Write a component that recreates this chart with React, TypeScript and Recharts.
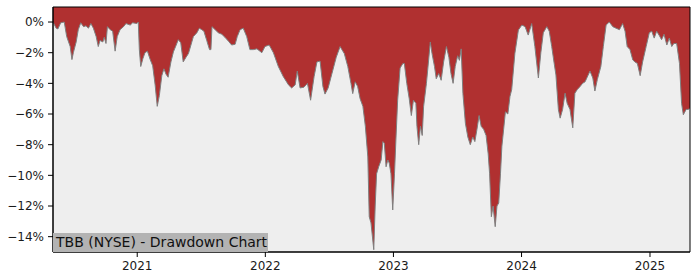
import { AreaChart, Area, XAxis, YAxis, CartesianGrid, ReferenceArea } from "recharts";

const dates = [
  "2020-05-06", "2020-05-15", "2020-05-20", "2020-05-28", "2020-06-07", "2020-06-14", "2020-06-24", "2020-06-29",
  "2020-07-03", "2020-07-11", "2020-07-17", "2020-07-24", "2020-08-01", "2020-08-08", "2020-08-15", "2020-08-22",
  "2020-08-29", "2020-09-06", "2020-09-12", "2020-09-17", "2020-09-25", "2020-09-29", "2020-10-04", "2020-10-08",
  "2020-10-16", "2020-10-23", "2020-10-30", "2020-11-05", "2020-11-13", "2020-11-23", "2020-11-30", "2020-12-12",
  "2020-12-19", "2020-12-31", "2021-01-04", "2021-01-07", "2021-01-11", "2021-01-17", "2021-01-23", "2021-01-30",
  "2021-02-07", "2021-02-14", "2021-02-21", "2021-02-27", "2021-03-05", "2021-03-12", "2021-03-18", "2021-03-24",
  "2021-03-30", "2021-04-07", "2021-04-14", "2021-04-22", "2021-04-28", "2021-05-05", "2021-05-12", "2021-05-20",
  "2021-05-27", "2021-06-03", "2021-06-10", "2021-06-20", "2021-06-27", "2021-07-04", "2021-07-10", "2021-07-18",
  "2021-07-26", "2021-07-30", "2021-08-02", "2021-08-11", "2021-08-20", "2021-08-30", "2021-09-08", "2021-09-18",
  "2021-09-27", "2021-10-07", "2021-10-13", "2021-10-21", "2021-10-30", "2021-11-09", "2021-11-18", "2021-11-28",
  "2021-12-08", "2021-12-22", "2021-12-31", "2022-01-12", "2022-01-24", "2022-02-07", "2022-02-21", "2022-03-08",
  "2022-03-17", "2022-03-27", "2022-04-02", "2022-04-10", "2022-04-21", "2022-05-01", "2022-05-10", "2022-05-20",
  "2022-05-28", "2022-06-06", "2022-06-14", "2022-06-20", "2022-06-29", "2022-07-07", "2022-07-22", "2022-08-02",
  "2022-08-14", "2022-08-24", "2022-09-02", "2022-09-07", "2022-09-14", "2022-09-21", "2022-09-28", "2022-10-06",
  "2022-10-13", "2022-10-20", "2022-10-24", "2022-10-29", "2022-11-06", "2022-11-10", "2022-11-14", "2022-11-20",
  "2022-11-27", "2022-12-02", "2022-12-06", "2022-12-11", "2022-12-16", "2022-12-20", "2022-12-25", "2022-12-30",
  "2023-01-04", "2023-01-08", "2023-01-13", "2023-01-20", "2023-01-28", "2023-02-01", "2023-02-08", "2023-02-15",
  "2023-02-21", "2023-02-27", "2023-03-06", "2023-03-09", "2023-03-14", "2023-03-19", "2023-03-24", "2023-03-28",
  "2023-04-05", "2023-04-12", "2023-04-16", "2023-04-21", "2023-04-28", "2023-05-03", "2023-05-10", "2023-05-17",
  "2023-05-24", "2023-06-01", "2023-06-08", "2023-06-14", "2023-06-20", "2023-06-26", "2023-07-03", "2023-07-08",
  "2023-07-13", "2023-07-18", "2023-07-25", "2023-08-01", "2023-08-08", "2023-08-15", "2023-08-21", "2023-08-27",
  "2023-09-02", "2023-09-08", "2023-09-15", "2023-09-22", "2023-09-28", "2023-10-02", "2023-10-07", "2023-10-12",
  "2023-10-18", "2023-10-23", "2023-10-28", "2023-11-02", "2023-11-06", "2023-11-11", "2023-11-16", "2023-11-23",
  "2023-11-29", "2023-12-04", "2023-12-13", "2023-12-23", "2024-01-02", "2024-01-11", "2024-01-20", "2024-01-30",
  "2024-02-08", "2024-02-18", "2024-02-25", "2024-03-03", "2024-03-13", "2024-03-20", "2024-03-27", "2024-04-03",
  "2024-04-08", "2024-04-15", "2024-04-20", "2024-04-27", "2024-05-04", "2024-05-10", "2024-05-18", "2024-05-26",
  "2024-06-01", "2024-06-08", "2024-06-16", "2024-06-23", "2024-06-30", "2024-07-06", "2024-07-14", "2024-07-22",
  "2024-07-28", "2024-08-04", "2024-08-14", "2024-08-21", "2024-08-29", "2024-09-07", "2024-09-17", "2024-09-26",
  "2024-10-06", "2024-10-15", "2024-10-22", "2024-10-28", "2024-11-05", "2024-11-13", "2024-11-19", "2024-11-26",
  "2024-12-04", "2024-12-11", "2024-12-21", "2024-12-30", "2025-01-06", "2025-01-13", "2025-01-20", "2025-01-28",
  "2025-02-03", "2025-02-10", "2025-02-18", "2025-02-25", "2025-03-04", "2025-03-10", "2025-03-18", "2025-03-26",
  "2025-04-01", "2025-04-06", "2025-04-14", "2025-04-20", "2025-04-25",
];

const drawdown = [
  0, -0.4, -0.45, -0.05, 0, -0.95, -1.6, -2.45,
  -2.0, -1.3, -0.5, -0.05, -0.3, -0.25, -0.4, -0.1,
  -0.4, -0.95, -1.6, -1.2, -1.3, -1.0, -1.4, -0.3,
  -0.5, -0.6, -1.9, -0.95, -0.5, -0.3, -0.1, -0.2,
  -0.05, -0.1, 0, -1.8, -2.9, -2.4, -2.0, -1.9,
  -2.45, -2.85, -4.1, -5.5, -4.8, -3.5, -3.05, -3.4,
  -3.6, -2.6, -1.95, -1.5, -1.15, -1.35, -2.6, -2.3,
  -2.05, -1.5, -0.95, -0.7, -0.4, -0.5, -0.6, -1.2,
  -1.8, -1.8, -0.3, -0.5, -0.7, -0.8, -1.0, -1.25,
  -1.5, -1.45, -0.95, -0.5, -0.4, -0.95, -1.8, -1.8,
  -1.75, -2.0, -1.6, -1.5, -2.0, -2.9, -3.55, -4.1,
  -4.3, -4.1, -3.2, -4.3, -4.25, -4.0, -5.1, -3.55,
  -2.6, -2.55, -4.2, -4.7, -4.3, -3.6, -2.3, -1.6,
  -2.06, -2.9, -4.0, -4.67, -3.9, -4.2, -5.0, -5.5,
  -6.8, -8.8, -12.7, -13.1, -14.85, -12.0, -9.9, -9.44,
  -9.0, -7.8, -7.9, -9.44, -9.0, -9.2, -9.9, -12.26,
  -9.9, -7.7, -5.1, -3.0, -2.7, -2.7, -4.0, -5.0,
  -6.1, -5.1, -5.3, -6.8, -8.0, -6.8, -7.4, -5.5,
  -4.0, -2.3, -1.3, -2.06, -2.9, -3.7, -3.36, -3.8,
  -2.6, -1.6, -2.3, -3.36, -4.0, -2.9, -2.2, -2.5,
  -1.75, -4.67, -6.6, -7.5, -8.0, -7.5, -7.8, -7.0,
  -6.1, -6.8, -7.0, -7.4, -8.6, -9.9, -12.7, -12.0,
  -13.35, -12.0, -11.8, -9.9, -8.1, -7.0, -5.86, -6.0,
  -4.86, -4.4, -2.05, -0.52, -0.2, -0.3, -0.85, -0.1,
  -1.6, -3.65, -2.0, -0.7, -0.3, -0.6, -1.6, -2.7,
  -3.45, -5.7, -6.27, -5.7, -4.64, -5.3, -5.7, -6.9,
  -4.64, -4.4, -4.2, -4.0, -3.9, -3.6, -3.2, -3.65,
  -4.5, -3.75, -2.9, -1.6, -0.2, 0, -0.3, -0.4,
  -0.5, -0.1, -0.6, -1.6, -1.8, -2.47, -2.6, -2.7,
  -3.5, -2.6, -1.6, -0.7, -0.6, -1.05, -0.6, -0.9,
  -1.15, -0.8, -1.5, -1.05, -1.6, -1.4, -1.4, -2.7,
  -5.3, -6.05, -5.7, -5.7, -5.6,
];

const yearTicks = ["2021-01-01", "2022-01-01", "2023-01-01", "2024-01-01", "2025-01-01"];
const yTicks = [0, -2, -4, -6, -8, -10, -12, -14];

const Y_TOP = 0.98;
const Y_BOTTOM = -15;

const data = dates.map((d, i) => ({ t: new Date(d).getTime(), dd: drawdown[i] }));
const xMin = data[0].t;
const xMax = data[data.length - 1].t;

const font = "DejaVu Sans, sans-serif";

export default function App() {
  return (
    <div style={{ position: "absolute", left: 0, top: 0, width: 700, height: 280, background: "#fff" }}>
      <AreaChart width={700} height={280} data={data} margin={{ top: 7, right: 10, bottom: 0, left: 0 }}>
        <CartesianGrid fill="#eeeeee" horizontal={false} vertical={false} />
        <XAxis
          dataKey="t"
          type="number"
          scale="time"
          domain={[xMin, xMax]}
          ticks={yearTicks.map((d) => new Date(d).getTime())}
          tickFormatter={(v) => String(new Date(v).getUTCFullYear())}
          height={28}
          tickSize={5}
          tickMargin={4}
          stroke="#000"
          tick={{ fill: "#1a1a1a", fontSize: 12, fontFamily: font }}
        />
        <YAxis
          type="number"
          domain={[Y_BOTTOM, Y_TOP]}
          ticks={yTicks}
          width={53}
          tickSize={5}
          tickMargin={4}
          stroke="#000"
          tickFormatter={(v) => (v === 0 ? "0%" : `\u2212${Math.abs(v)}%`)}
          tick={{ fill: "#1a1a1a", fontSize: 12, fontFamily: font }}
        />
        <Area
          type="linear"
          dataKey="dd"
          baseValue={Y_TOP}
          stroke="#7f7f7f"
          strokeWidth={1}
          fill="#b03030"
          fillOpacity={1}
          isAnimationActive={false}
        />
        <ReferenceArea x1={xMin} x2={xMax} y1={Y_BOTTOM} y2={Y_TOP} fill="none" stroke="#000" strokeWidth={1} />
      </AreaChart>
      <div
        style={{
          position: "absolute",
          left: 53,
          top: 233,
          width: 215,
          height: 19,
          background: "#b3b3b3",
          fontFamily: font,
          fontSize: 14,
          lineHeight: "19px",
          paddingLeft: 3,
          boxSizing: "border-box",
          color: "#111",
          whiteSpace: "nowrap",
        }}
      >
        TBB (NYSE) - Drawdown Chart
      </div>
    </div>
  );
}
